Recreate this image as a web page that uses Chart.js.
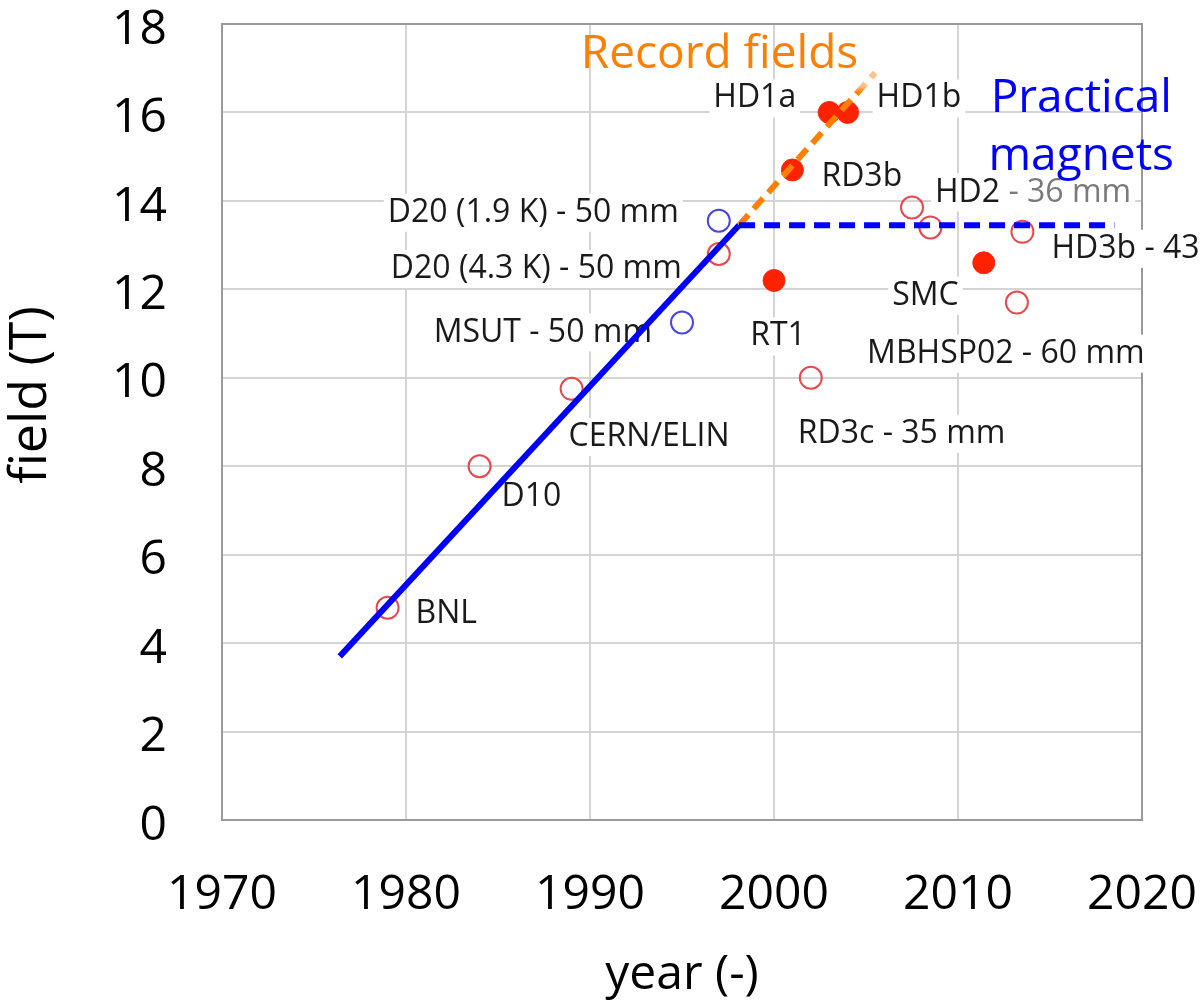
<!DOCTYPE html>
<html>
<head>
<meta charset="utf-8">
<title>field vs year</title>
<script src="https://cdn.jsdelivr.net/npm/chart.js@4.4.1/dist/chart.umd.min.js"></script>
<style>
  html, body { margin: 0; padding: 0; background: #fff; }
  #chart { display: block; }
</style>
</head>
<body>
<canvas id="chart" width="1202" height="1002"></canvas>
<script>
// open red circles
const openRedNames = ['BNL', 'D10', 'CERN/ELIN', 'D20 (4.3 K) - 50 mm', 'RD3c - 35 mm', 'HD2 - 36 mm', '', 'MBHSP02 - 60 mm', 'HD3b - 43'];
const openRedYears = [1979, 1984, 1989, 1997, 2002, 2007.5, 2008.5, 2013.2, 2013.5];
const openRedField = [4.8, 8.0, 9.75, 12.8, 10.0, 13.85, 13.4, 11.7, 13.3];

// open blue circles
const openBlueNames = ['MSUT - 50 mm', 'D20 (1.9 K) - 50 mm'];
const openBlueYears = [1995, 1997];
const openBlueField = [11.25, 13.55];

// filled red circles
const filledRedNames = ['RT1', 'RD3b', 'HD1a', 'HD1b', 'SMC'];
const filledRedYears = [2000, 2001, 2003, 2004, 2011.4];
const filledRedField = [12.2, 14.7, 16.0, 16.0, 12.6];

// trend lines
const practicalYears = [1976.4, 1998.1];
const practicalField = [3.7, 13.45];
const plateauYears = [1998.1, 2018.5];
const plateauField = [13.45, 13.45];
const recordYears = [1998.1, 2005.5];
const recordField = [13.45, 16.9];

const xTicks = [1970, 1980, 1990, 2000, 2010, 2020];
const yTicks = [0, 2, 4, 6, 8, 10, 12, 14, 16, 18];

// where each label sits relative to its point: [dx, dy to baseline, align]
const labelPlace = {
    'BNL': [28, 15, 'left'],
    'D10': [22, 40, 'left'],
    'CERN/ELIN': [-3, 57, 'left'],
    'D20 (4.3 K) - 50 mm': [-37, 24, 'right'],
    'RD3c - 35 mm': [-13, 65, 'left'],
    'HD2 - 36 mm': [23, -6, 'left'],
    'MBHSP02 - 60 mm': [-11, 60, 'center'],
    'HD3b - 43': [29, 26, 'left'],
    'MSUT - 50 mm': [-30, 19, 'right'],
    'D20 (1.9 K) - 50 mm': [-40, 1, 'right'],
    'RT1': [4, 65, 'center'],
    'RD3b': [29, 16, 'left'],
    'HD1a': [-33, -5, 'right'],
    'HD1b': [29, -5, 'left'],
    'SMC': [-25, 42, 'right']
};
// part of a label printed in grey (the HD2 one is washed out in the source)
const fadedTail = { 'HD2 - 36 mm': 3 };

// free text notes, anchored in data units
const notes = [
    { text: 'Record fields', x: 1989.5, y: 17.0, color: '#ff8000', align: 'left' },
    { text: 'Practical', x: 2016.7, y: 16.0, color: '#0000ff', align: 'center' },
    { text: 'magnets', x: 2016.7, y: 14.7, color: '#0000ff', align: 'center' }
];

const FONT = '"Open Sans", "Noto Sans", sans-serif';
const toPoints = (xs, ys) => xs.map((x, i) => ({ x: x, y: ys[i] }));

const frameAndLabels = {
    id: 'frameAndLabels',
    beforeDatasetsDraw(chart) {
        const ctx = chart.ctx;
        const a = chart.chartArea;
        ctx.save();
        // top and right frame
        ctx.strokeStyle = '#9a9a9a';
        ctx.lineWidth = 2;
        ctx.beginPath();
        ctx.moveTo(a.left, a.top);
        ctx.lineTo(a.right, a.top);
        ctx.lineTo(a.right, a.bottom);
        ctx.stroke();

        ctx.font = '32px ' + FONT;
        ctx.textBaseline = 'alphabetic';
        ctx.textAlign = 'left';
        chart.data.datasets.forEach((ds, i) => {
            if (!ds.names) return;
            const meta = chart.getDatasetMeta(i);
            ds.names.forEach((name, j) => {
                const place = labelPlace[name];
                if (!name || !place) return;
                const pt = meta.data[j];
                const w = ctx.measureText(name).width;
                const x = pt.x + place[0];
                const left = place[2] === 'right' ? x - w : place[2] === 'center' ? x - w / 2 : x;
                const y = pt.y + place[1];
                ctx.fillStyle = '#fff';
                ctx.fillRect(left - 4, y - 28, w + 8, 38);
                const cut = fadedTail[name] || name.length;
                const head = name.slice(0, cut);
                ctx.fillStyle = '#1a1a1a';
                ctx.fillText(head, left, y);
                if (cut < name.length) {
                    ctx.fillStyle = '#7a7a7a';
                    ctx.fillText(name.slice(cut), left + ctx.measureText(head).width, y);
                }
            });
        });
        ctx.restore();
    },
    afterDatasetsDraw(chart) {
        const ctx = chart.ctx;
        const xs = chart.scales.x, ys = chart.scales.y;
        ctx.save();
        ctx.font = '46px ' + FONT;
        ctx.textBaseline = 'alphabetic';
        notes.forEach(n => {
            ctx.fillStyle = n.color;
            ctx.textAlign = n.align;
            ctx.fillText(n.text, xs.getPixelForValue(n.x), ys.getPixelForValue(n.y));
        });
        ctx.restore();
    }
};

const recordColor = (c) => {
    const ch = c.chart;
    if (!ch.chartArea) return '#ff8000';
    const ys = ch.scales.y;
    const g = ch.ctx.createLinearGradient(0, ys.getPixelForValue(16.45), 0, ys.getPixelForValue(16.6));
    g.addColorStop(0, '#ff8000');
    g.addColorStop(1, '#ffc28c');
    return g;
};

new Chart(document.getElementById('chart'), {
    type: 'scatter',
    data: {
        datasets: [
            {
                data: toPoints(practicalYears, practicalField),
                showLine: true, borderColor: '#0000ff', borderWidth: 6,
                pointRadius: 0, order: 0
            },
            {
                data: toPoints(plateauYears, plateauField),
                showLine: true, borderColor: '#0000ff', borderWidth: 6, borderDash: [16, 9],
                pointRadius: 0, order: 0
            },
            {
                data: toPoints(recordYears, recordField),
                showLine: true, borderColor: recordColor, borderWidth: 6, borderDash: [14, 8],
                pointRadius: 0, order: 0
            },
            {
                data: toPoints(openRedYears, openRedField),
                names: openRedNames,
                pointRadius: 11, pointBorderWidth: 2,
                pointBorderColor: '#e8474c', pointBackgroundColor: 'rgba(255,255,255,0)',
                order: 1
            },
            {
                data: toPoints(openBlueYears, openBlueField),
                names: openBlueNames,
                pointRadius: 11, pointBorderWidth: 2,
                pointBorderColor: '#4646e0', pointBackgroundColor: 'rgba(255,255,255,0)',
                order: 1
            },
            {
                data: toPoints(filledRedYears, filledRedField),
                names: filledRedNames,
                pointRadius: 11, pointBorderWidth: 1,
                pointBorderColor: '#ff2a10', pointBackgroundColor: '#ff2200',
                order: 1
            }
        ]
    },
    options: {
        responsive: false,
        animation: false,
        layout: { padding: { left: 0, right: 60, top: 24, bottom: 0 } },
        plugins: { legend: { display: false }, tooltip: { enabled: false } },
        scales: {
            x: {
                type: 'linear', min: 1970, max: 2020,
                afterBuildTicks: s => { s.ticks = xTicks.map(v => ({ value: v })); },
                afterFit: s => { s.height = 182; s.paddingLeft = 0; s.paddingRight = 0; },
                grid: { color: '#d4d4d4', lineWidth: 2, drawTicks: false },
                border: { color: '#9a9a9a', width: 2 },
                ticks: {
                    color: '#000', padding: 47,
                    font: { family: FONT, size: 48 },
                    callback: v => String(v)
                },
                title: {
                    display: true, text: 'year (-)', color: '#000',
                    font: { family: FONT, size: 48, lineHeight: 1.1 },
                    padding: 0
                }
            },
            y: {
                type: 'linear', min: 0, max: 18,
                afterBuildTicks: s => { s.ticks = yTicks.map(v => ({ value: v })); },
                afterFit: s => { s.width = 222; s.paddingTop = 0; s.paddingBottom = 0; },
                grid: { color: '#d4d4d4', lineWidth: 2, drawTicks: false },
                border: { color: '#9a9a9a', width: 2 },
                ticks: {
                    color: '#000', padding: 55, labelOffset: 6,
                    font: { family: FONT, size: 48 },
                    callback: v => String(v)
                },
                title: {
                    display: true, text: '    field (T)', color: '#000',
                    font: { family: FONT, size: 52 },
                    padding: 0
                }
            }
        }
    },
    plugins: [frameAndLabels]
});
</script>
</body>
</html>
